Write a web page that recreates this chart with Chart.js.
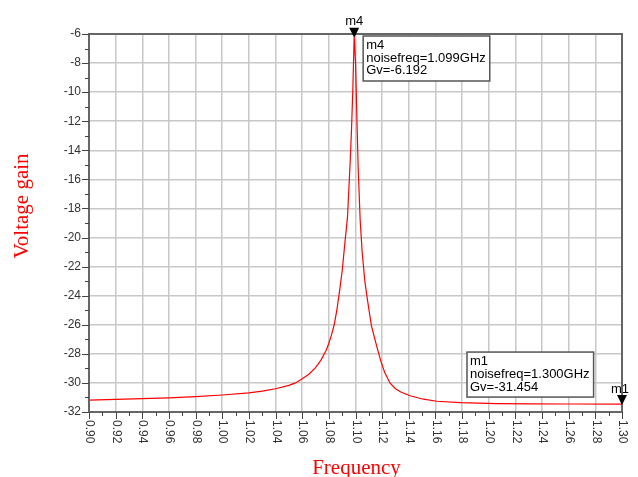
<!DOCTYPE html>
<html>
<head>
<meta charset="utf-8">
<title>Voltage gain</title>
<script src="https://cdn.jsdelivr.net/npm/chart.js@4.4.1/dist/chart.umd.min.js"></script>
<style>
  html, body { margin: 0; padding: 0; background: #fff; }
  canvas { display: block; }
</style>
</head>
<body>
<canvas id="gain" width="638" height="477"></canvas>
<script>
// values (noisefreq in GHz, Gv in dB)
const freqGHz = [0.900, 0.920, 0.940, 0.960, 0.980, 1.000, 1.020, 1.030, 1.040, 1.050,
  1.055, 1.060, 1.065, 1.070, 1.074, 1.078, 1.080, 1.082, 1.084, 1.086,
  1.088, 1.090, 1.092, 1.094, 1.096, 1.097, 1.098, 1.099, 1.100, 1.101,
  1.102, 1.1035, 1.105, 1.107, 1.109, 1.112, 1.116, 1.119, 1.122, 1.126,
  1.130, 1.134, 1.141, 1.151, 1.161, 1.179, 1.206, 1.231, 1.260, 1.300];
const gainDb = [-31.19, -31.13, -31.08, -31.03, -30.94, -30.83, -30.69, -30.57, -30.40, -30.17,
  -30.00, -29.72, -29.40, -28.95, -28.45, -27.75, -27.27, -26.70, -26.00, -25.00,
  -23.70, -22.30, -20.40, -18.60, -14.80, -12.60, -9.80, -6.192, -7.90, -11.60,
  -15.20, -18.80, -21.00, -23.00, -24.30, -26.10, -27.50, -28.50, -29.30, -30.02,
  -30.40, -30.62, -30.88, -31.12, -31.26, -31.35, -31.42, -31.44, -31.45, -31.454];

const xTicks = ["0.90", "0.92", "0.94", "0.96", "0.98", "1.00", "1.02", "1.04", "1.06", "1.08",
  "1.10", "1.12", "1.14", "1.16", "1.18", "1.20", "1.22", "1.24", "1.26", "1.28", "1.30"];
const yTicks = [-6, -8, -10, -12, -14, -16, -18, -20, -22, -24, -26, -28, -30, -32];

const markerNames = ["m4", "m1"];
const markerFreq = [1.099, 1.300];
const markerGain = [-6.192, -31.454];

const xTitle = "Frequency";
const yTitle = "Voltage gain";

const points = freqGHz.map((f, i) => ({ x: f, y: gainDb[i] }));

// axes, tick labels, titles and markers drawn on top of the chart
const decorations = {
  id: "decorations",
  afterDraw(chart) {
    const ctx = chart.ctx;
    const xs = chart.scales.x, ys = chart.scales.y;
    const a = chart.chartArea;
    ctx.save();

    ctx.strokeStyle = "#666";
    ctx.lineWidth = 2;
    ctx.strokeRect(a.left, a.top, a.right - a.left, a.bottom - a.top);

    // tick marks
    ctx.strokeStyle = "#444";
    ctx.lineWidth = 1;
    ctx.beginPath();
    xTicks.forEach((t, i) => {
      const px = Math.round(xs.getPixelForValue(parseFloat(t))) + 0.5;
      ctx.moveTo(px, a.bottom); ctx.lineTo(px, a.bottom + 7);
      if (i < xTicks.length - 1) {
        const mid = (parseFloat(t) + parseFloat(xTicks[i + 1])) / 2;
        const mx = Math.round(xs.getPixelForValue(mid)) + 0.5;
        ctx.moveTo(mx, a.bottom); ctx.lineTo(mx, a.bottom + 4);
      }
    });
    yTicks.forEach((t, i) => {
      const py = Math.round(ys.getPixelForValue(t)) + 0.5;
      ctx.moveTo(a.left, py); ctx.lineTo(a.left - 7, py);
      if (i < yTicks.length - 1) {
        const my = Math.round(ys.getPixelForValue((t + yTicks[i + 1]) / 2)) + 0.5;
        ctx.moveTo(a.left, my); ctx.lineTo(a.left - 4, my);
      }
    });
    ctx.stroke();

    // tick labels
    ctx.fillStyle = "#333";
    ctx.font = "12px 'Liberation Sans', Arial, sans-serif";
    ctx.textAlign = "right";
    ctx.textBaseline = "middle";
    yTicks.forEach(t => ctx.fillText(String(t), a.left - 8, ys.getPixelForValue(t)));
    xTicks.forEach(t => {
      ctx.save();
      ctx.translate(xs.getPixelForValue(parseFloat(t)) + 0.5, a.bottom + 8);
      ctx.rotate(Math.PI / 2);
      ctx.textAlign = "left";
      ctx.fillText(t, 0, 0);
      ctx.restore();
    });

    // axis titles
    ctx.fillStyle = "#ff0000";
    ctx.font = "21px 'Liberation Serif', 'Times New Roman', serif";
    ctx.textAlign = "center";
    ctx.textBaseline = "alphabetic";
    ctx.fillText(xTitle, (a.left + a.right) / 2 + 1, 474);
    ctx.save();
    ctx.translate(28, 206);
    ctx.rotate(-Math.PI / 2);
    ctx.fillText(yTitle, 0, 0);
    ctx.restore();

    // markers
    markerNames.forEach((name, i) => {
      const px = xs.getPixelForValue(markerFreq[i]);
      const py = ys.getPixelForValue(markerGain[i]);
      ctx.fillStyle = "#000";
      ctx.beginPath();
      ctx.moveTo(px, py + 1);
      ctx.lineTo(px - 5, py - 9);
      ctx.lineTo(px + 5, py - 9);
      ctx.closePath();
      ctx.fill();
      ctx.font = "13px 'Liberation Sans', Arial, sans-serif";
      ctx.textAlign = "center";
      ctx.textBaseline = "middle";
      ctx.fillText(name, px - (i === 1 ? 2 : 0), py - 15);

      const lines = [name, "noisefreq=" + markerFreq[i].toFixed(3) + "GHz", "Gv=" + markerGain[i].toFixed(3)];
      const w = Math.max(...lines.map(l => ctx.measureText(l).width)) + 7;
      const h = 45;
      const bx = i === 0 ? px + 9 : px - 155;
      const by = i === 0 ? a.top + 2 : py - 52;
      ctx.fillStyle = "#fff";
      ctx.fillRect(bx, by, w, h);
      ctx.strokeStyle = "#555";
      ctx.lineWidth = 1.5;
      ctx.strokeRect(bx, by, w, h);
      ctx.fillStyle = "#000";
      ctx.textAlign = "left";
      lines.forEach((l, k) => ctx.fillText(l, bx + 3, by + 9.5 + k * 12.7));
    });

    ctx.restore();
  }
};

new Chart(document.getElementById("gain"), {
  type: "line",
  data: {
    datasets: [{
      label: "Gv",
      data: points,
      borderColor: "#ff0000",
      borderWidth: 1.2,
      pointRadius: 0,
      tension: 0,
      fill: false
    }]
  },
  options: {
    responsive: false,
    animation: false,
    devicePixelRatio: 1,
    layout: { padding: { left: 89, right: 16, top: 34, bottom: 65 } },
    plugins: { legend: { display: false }, tooltip: { enabled: false } },
    scales: {
      x: {
        type: "linear",
        min: 0.9,
        max: 1.3,
        ticks: { display: false, stepSize: 0.02 },
        grid: { color: "#c8c8c8", lineWidth: 1.5, drawTicks: false },
        border: { display: false }
      },
      y: {
        type: "linear",
        min: -32,
        max: -6,
        ticks: { display: false, stepSize: 2 },
        grid: { color: "#c8c8c8", lineWidth: 1.5, drawTicks: false },
        border: { display: false }
      }
    }
  },
  plugins: [decorations]
});
</script>
</body>
</html>
